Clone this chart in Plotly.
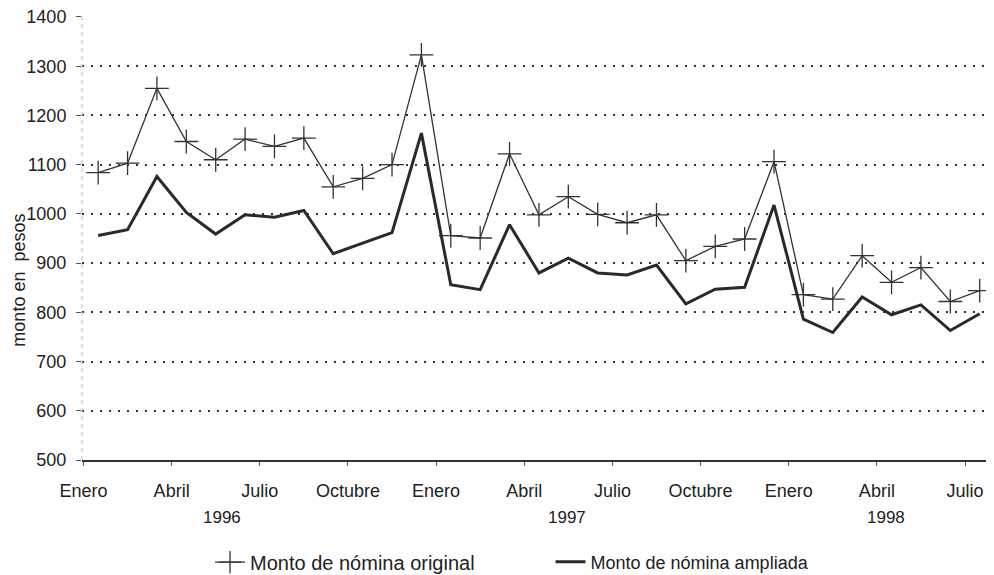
import plotly.graph_objects as go

# month index 0 = Enero 1996 ... 30 = Julio 1998
months = list(range(31))
original = [1084, 1103, 1255, 1147, 1110, 1152, 1137, 1154, 1055, 1072, 1100, 1323,
            956, 951, 1122, 998, 1035, 999, 982, 998, 905, 934, 949, 1106,
            836, 827, 915, 861, 891, 822, 844]
ampliada = [956, 968, 1076, 1003, 959, 998, 993, 1007, 919, 940, 962, 1164,
            856, 846, 978, 880, 910, 880, 876, 896, 817, 847, 851, 1018,
            786, 759, 831, 795, 815, 763, 797]
tick_pos = [-0.5, 2.5, 5.5, 8.5, 11.5, 14.5, 17.5, 20.5, 23.5, 26.5, 29.5]
tick_text = ["Enero", "Abril", "Julio", "Octubre", "Enero", "Abril", "Julio",
             "Octubre", "Enero", "Abril", "Julio"]
years = ["1996", "1997", "1998"]
year_pos = [4.2, 15.95, 26.8]
y_ticks = [500, 600, 700, 800, 900, 1000, 1100, 1200, 1300, 1400]

FONT = "Liberation Sans, Arial, Helvetica, sans-serif"
INK = "#222222"

fig = go.Figure()
fig.add_trace(go.Scatter(
    x=months, y=original, mode="lines+markers",
    name="Monto de nómina original",
    line=dict(color="#333333", width=1.3),
    marker=dict(symbol="cross-thin", size=17, line=dict(color="#333333", width=1.3)),
    legend="legend", showlegend=True,
))
fig.add_trace(go.Scatter(
    x=months, y=ampliada, mode="lines",
    name="Monto de nómina ampliada",
    line=dict(color="#2a2a2a", width=3),
    legend="legend2", showlegend=True,
))

annotations = [dict(text=yr, x=xp, xref="x", y=-0.129, yref="paper",
                    showarrow=False, xanchor="center", yanchor="middle",
                    font=dict(family=FONT, size=17, color=INK))
               for yr, xp in zip(years, year_pos)]
annotations.append(dict(text="monto en  pesos", textangle=-90, x=-0.0695, xref="paper",
                        y=0.406, yref="paper", showarrow=False,
                        xanchor="center", yanchor="middle",
                        font=dict(family=FONT, size=18, color=INK)))

# page body has an 8px margin, so the figure is sized to fit inside 994x575
fig.update_layout(
    width=986, height=567,
    margin=dict(l=74, r=4, t=8, b=115, autoexpand=False),
    showlegend=True,
    paper_bgcolor="white", plot_bgcolor="white",
    font=dict(family=FONT, color=INK),
    annotations=annotations,
    shapes=[dict(type="line", xref="paper", yref="paper", x0=0, x1=0, y0=0, y1=1,
                 line=dict(color="#bbbbbb", width=1, dash="4px,4px"))],
    legend=dict(orientation="h", x=0.141, xanchor="left", y=-0.23, yanchor="middle",
                font=dict(family=FONT, size=20, color=INK), bgcolor="rgba(0,0,0,0)"),
    legend2=dict(orientation="h", x=0.516, xanchor="left", y=-0.23, yanchor="middle",
                 font=dict(family=FONT, size=18, color=INK), bgcolor="rgba(0,0,0,0)"),
)
fig.update_xaxes(
    range=[-0.55, 30.35], tickmode="array", tickvals=tick_pos, ticktext=tick_text,
    tickfont=dict(family=FONT, size=18, color=INK),
    ticks="outside", ticklen=4, tickcolor="#555555",
    showgrid=False, zeroline=False, automargin=False,
    showline=True, linecolor="#333333", linewidth=1.5,
    ticklabelstandoff=10,
)
fig.update_yaxes(
    range=[500, 1402], tickmode="array", tickvals=y_ticks,
    tickfont=dict(family=FONT, size=18, color=INK),
    ticks="outside", ticklen=5, tickcolor="#555555",
    showgrid=True, gridcolor="#333333", gridwidth=1.5, griddash="2px,7px",
    zeroline=False, showline=False, automargin=False,
    ticklabelstandoff=6, ticklabeloverflow="allow",
)
fig.write_html("out.html")
